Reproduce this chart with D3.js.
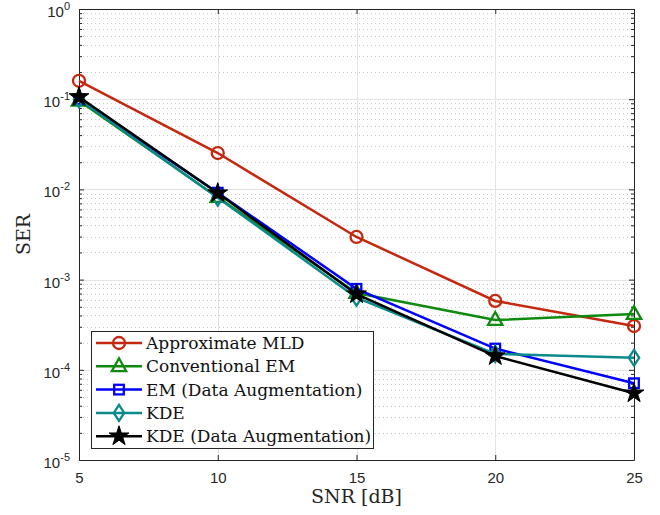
<!DOCTYPE html>
<html>
<head>
<meta charset="utf-8">
<script src="https://cdn.jsdelivr.net/npm/d3@7"></script>
<style>
  body { margin: 0; background: #fff; }
  svg { display: block; }
</style>
</head>
<body>
<div id="chart"></div>
<script>
"use strict";

// data
var snr = [5, 10, 15, 20, 25];
var serMLD = [0.16, 0.0253, 2.97e-3, 5.8e-4, 3.06e-4];
var serConvEM = [0.096, 8.2e-3, 7.1e-4, 3.56e-4, 4.15e-4];
var serEMDA = [0.1, 9.2e-3, 7.9e-4, 1.72e-4, 7.1e-5];
var serKDE = [0.1, 8.1e-3, 6.3e-4, 1.5e-4, 1.36e-4];
var serKDEDA = [0.106, 9.1e-3, 6.9e-4, 1.42e-4, 5.5e-5];
var xTicks = [5, 10, 15, 20, 25];
var yExps = [0, -1, -2, -3, -4, -5];

var seriesNames = ["Approximate MLD", "Conventional EM", "EM (Data Augmentation)", "KDE", "KDE (Data Augmentation)"];
var seriesColors = ["#c4280f", "#0f8a0f", "#0000ff", "#0a8a8a", "#000000"];
var seriesMarkers = ["circle", "triangle", "square", "diamond", "star"];
var seriesValues = [serMLD, serConvEM, serEMDA, serKDE, serKDEDA];

var W = 660, H = 515;
var margin = { left: 79, right: 26, top: 9, bottom: 55 };
var iw = W - margin.left - margin.right;
var ih = H - margin.top - margin.bottom;

var svg = d3.select("#chart").append("svg")
    .attr("width", W).attr("height", H);

var g = svg.append("g")
    .attr("transform", "translate(" + margin.left + "," + margin.top + ")");

var x = d3.scaleLinear().domain([5, 25]).range([0, iw]);
var y = d3.scaleLog().domain([1e-5, 1]).range([ih, 0]);

var axisColor = "#262626";

// minor grid (dotted)
var minors = [];
for (var e = -5; e < 0; e++) {
    for (var m = 2; m <= 9; m++) minors.push(m * Math.pow(10, e));
}
g.append("g").selectAll("line").data(minors).enter().append("line")
    .attr("x1", 0).attr("x2", iw)
    .attr("y1", function (d) { return Math.round(y(d)) + 0.5; })
    .attr("y2", function (d) { return Math.round(y(d)) + 0.5; })
    .style("stroke", "#c8c8c8")
    .style("stroke-width", 1)
    .style("stroke-dasharray", "1,3");

// major grid
g.append("g").selectAll("line").data(yExps).enter().append("line")
    .attr("x1", 0).attr("x2", iw)
    .attr("y1", function (d) { return Math.round(y(Math.pow(10, d))) + 0.5; })
    .attr("y2", function (d) { return Math.round(y(Math.pow(10, d))) + 0.5; })
    .style("stroke", "#e3e3e3");
g.append("g").selectAll("line").data(xTicks).enter().append("line")
    .attr("x1", function (d) { return Math.round(x(d)) + 0.5; })
    .attr("x2", function (d) { return Math.round(x(d)) + 0.5; })
    .attr("y1", 0).attr("y2", ih)
    .style("stroke", "#e3e3e3");

// axes, ticks pointing inward
var xAxis = d3.axisBottom(x).tickValues(xTicks).tickSizeInner(-5).tickSizeOuter(0).tickPadding(12);
var yAxis = d3.axisLeft(y).tickValues(minors.concat(yExps.map(function (d) { return Math.pow(10, d); })))
    .tickSizeInner(-5).tickSizeOuter(0).tickFormat("");

var gx = g.append("g").attr("transform", "translate(0," + ih + ")").call(xAxis);
gx.selectAll("text").style("font-family", "'Liberation Sans', Arial, sans-serif")
    .style("font-size", "15px").style("fill", axisColor);
var gy = g.append("g").call(yAxis);
gy.selectAll(".tick line").attr("x2", function (d) {
    var l = Math.log10(d);
    return Math.abs(l - Math.round(l)) < 1e-9 ? 5 : 3;
});

// top / right ticks
var gxt = g.append("g").call(d3.axisTop(x).tickValues(xTicks).tickSizeInner(-5).tickSizeOuter(0).tickFormat(""));
var gyr = g.append("g").attr("transform", "translate(" + iw + ",0)")
    .call(d3.axisRight(y).tickValues(minors.concat(yExps.map(function (d) { return Math.pow(10, d); })))
        .tickSizeInner(-3).tickSizeOuter(0).tickFormat(""));
gyr.selectAll(".tick line").attr("x2", function (d) {
    var l = Math.log10(d);
    return Math.abs(l - Math.round(l)) < 1e-9 ? -5 : -3;
});

[gx, gy, gxt, gyr].forEach(function (a) {
    a.selectAll("path, line").style("stroke", axisColor);
});

// y tick labels 10^n
var yl = g.append("g").selectAll("text").data(yExps).enter().append("text")
    .attr("x", -9)
    .attr("y", function (d) { return y(Math.pow(10, d)) + 8; })
    .attr("text-anchor", "end")
    .style("font-family", "'Liberation Sans', Arial, sans-serif")
    .style("font-size", "15px")
    .style("fill", axisColor);
yl.append("tspan").text("10");
yl.append("tspan").attr("dy", -7).style("font-size", "11px")
    .text(function (d) { return d === 0 ? "0" : "-" + Math.abs(d); });

// axis titles
svg.append("text")
    .attr("x", margin.left + iw / 2).attr("y", 503)
    .attr("text-anchor", "middle")
    .style("font-family", "'DejaVu Serif', 'Liberation Serif', serif")
    .style("font-size", "19px").style("fill", axisColor)
    .text("SNR [dB]");
svg.append("text")
    .attr("transform", "translate(30," + (margin.top + ih / 2) + ") rotate(-90)")
    .attr("text-anchor", "middle")
    .style("font-family", "'DejaVu Serif', 'Liberation Serif', serif")
    .style("font-size", "19px").style("fill", axisColor)
    .text("SER");

// markers
function drawMarker(sel, type, color, size) {
    var s = size;
    var p;
    if (type === "circle") {
        p = sel.append("circle").attr("r", s * 0.75);
    } else if (type === "triangle") {
        p = sel.append("path").attr("d", "M0," + (-s) + "L" + (s * 0.9) + "," + (s * 0.6) + "L" + (-s * 0.9) + "," + (s * 0.6) + "Z");
    } else if (type === "square") {
        p = sel.append("rect").attr("x", -s * 0.6).attr("y", -s * 0.6).attr("width", s * 1.2).attr("height", s * 1.2);
    } else if (type === "diamond") {
        p = sel.append("path").attr("d", "M0," + (-s) + "L" + (s * 0.65) + ",0L0," + s + "L" + (-s * 0.65) + ",0Z");
    } else {
        p = sel.append("path").attr("d", d3.symbol().type(d3.symbolStar).size(s * s * 1.9)());
    }
    if (type === "star") {
        p.style("fill", color).style("stroke", color).style("stroke-width", 1);
    } else {
        p.style("fill", "none").style("stroke", color).style("stroke-width", 2.3);
    }
}

var line = d3.line()
    .x(function (d, i) { return x(snr[i]); })
    .y(function (d) { return y(d); });

seriesValues.forEach(function (vals, k) {
    var sg = g.append("g");
    sg.append("path")
        .attr("d", line(vals))
        .style("fill", "none")
        .style("stroke", seriesColors[k])
        .style("stroke-width", 2.5);
    sg.selectAll("g.pt").data(vals).enter().append("g")
        .attr("class", "pt")
        .attr("transform", function (d, i) { return "translate(" + x(snr[i]) + "," + y(d) + ")"; })
        .each(function () { drawMarker(d3.select(this), seriesMarkers[k], seriesColors[k], 8); });
});

// legend
var lg = svg.append("g").attr("transform", "translate(91,331)");
lg.append("rect")
    .attr("x", 0.5).attr("y", 0.5).attr("width", 282).attr("height", 117)
    .style("fill", "#fff").style("stroke", axisColor).style("stroke-width", 1);
seriesNames.forEach(function (name, k) {
    var ey = 12 + k * 23.3;
    var eg = lg.append("g").attr("transform", "translate(0," + ey + ")");
    eg.append("line").attr("x1", 5).attr("x2", 51).attr("y1", 0).attr("y2", 0)
        .style("stroke", seriesColors[k]).style("stroke-width", 2.5);
    var mg = eg.append("g").attr("transform", "translate(28,0)");
    drawMarker(mg, seriesMarkers[k], seriesColors[k], 8);
    eg.append("text").attr("x", 55).attr("y", 6)
        .style("font-family", "'DejaVu Serif', 'Liberation Serif', serif")
        .style("font-size", "17px").style("fill", "#111")
        .text(name);
});
</script>
</body>
</html>
